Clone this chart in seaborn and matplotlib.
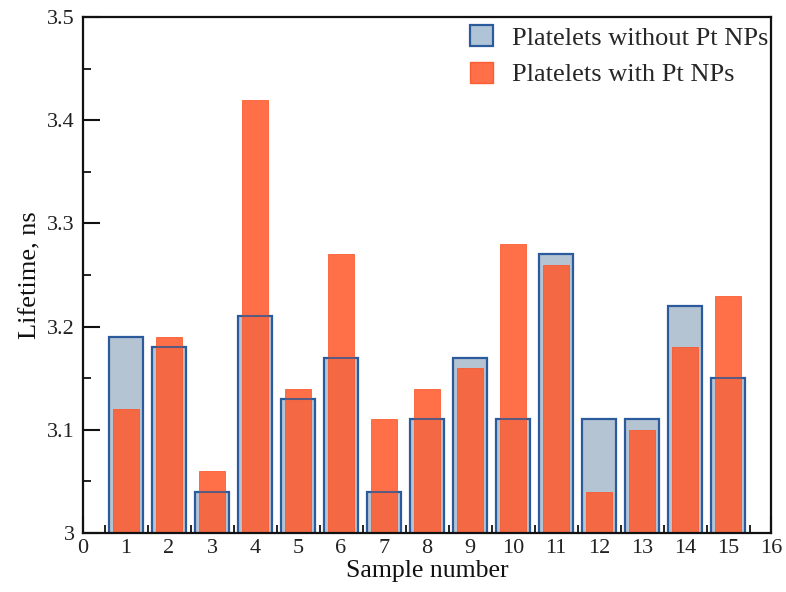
import matplotlib
matplotlib.use("Agg")
import matplotlib.pyplot as plt
import matplotlib.ticker as mticker
from matplotlib.patches import Patch
import pandas as pd
import seaborn as sns

# Lifetime per sample, ns
samples = list(range(1, 16))
without_pt = [3.19, 3.18, 3.04, 3.21, 3.13, 3.17, 3.04, 3.11, 3.17, 3.11, 3.27, 3.11, 3.11, 3.22, 3.15]
with_pt = [3.12, 3.19, 3.06, 3.42, 3.14, 3.27, 3.11, 3.14, 3.16, 3.28, 3.26, 3.04, 3.10, 3.18, 3.23]
label_without = "Platelets without Pt NPs"
label_with = "Platelets with Pt NPs"

df = pd.DataFrame({"sample": samples, "without": without_pt, "with": with_pt})

sns.set_style("ticks")
plt.rcParams["font.family"] = ["Liberation Serif", "DejaVu Serif"]

blue_fill = "#b0c4d8"
blue_edge = "#2c5b9c"
orange = (1.0, 0.35, 0.17, 0.86)
orange_edge = (0.98, 0.33, 0.15, 0.9)

fig = plt.figure(figsize=(7.86, 5.92), dpi=100)
ax = fig.add_axes([0.1056, 0.0997, 0.8755, 0.8716])

# filled blue bars underneath
sns.barplot(data=df, x="sample", y="without", native_scale=True, width=0.8,
            color=blue_fill, edgecolor=blue_edge, linewidth=1.6, ax=ax)
n = len(ax.patches)
# semi-transparent orange bars on top
sns.barplot(data=df, x="sample", y="with", native_scale=True, width=0.6,
            color=orange[:3], edgecolor=orange_edge[:3], linewidth=0.6, ax=ax)
for p in ax.patches[n:]:
    p.set_facecolor(orange)
    p.set_edgecolor(orange_edge)
m = len(ax.patches)
# blue outlines redrawn above the orange bars
sns.barplot(data=df, x="sample", y="without", native_scale=True, width=0.8,
            fill=False, edgecolor=blue_edge, linewidth=1.4, ax=ax)
for p in ax.patches[m:]:
    p.set_facecolor("none")
    p.set_edgecolor((0.17, 0.36, 0.61, 0.75))

ax.set_xlim(0, 16)
ax.set_ylim(3, 3.5)
ax.xaxis.set_major_locator(mticker.MultipleLocator(1))
ax.xaxis.set_minor_locator(mticker.MultipleLocator(0.5))
ax.yaxis.set_major_locator(mticker.MultipleLocator(0.1))
ax.yaxis.set_minor_locator(mticker.MultipleLocator(0.05))
ax.yaxis.set_major_formatter(mticker.FormatStrFormatter("%g"))
ax.xaxis.set_major_formatter(mticker.FormatStrFormatter("%d"))

ax.tick_params(axis="both", which="major", direction="in", length=12, width=1.5,
               labelsize=16, color="#111111", labelcolor="#222222")
ax.tick_params(axis="both", which="minor", direction="in", length=6, width=1.3,
               color="#111111")
ax.tick_params(axis="x", which="major", pad=4)
ax.tick_params(axis="y", which="major", pad=6)

for s in ax.spines.values():
    s.set_linewidth(1.6)
    s.set_color("#111111")
    s.set_visible(True)

ax.set_xlabel("Sample number", fontsize=18.5, labelpad=2, color="#111111")
ax.set_ylabel("Lifetime, ns", fontsize=19, labelpad=4, color="#111111")

handles = [Patch(facecolor=blue_fill, edgecolor=blue_edge, linewidth=1.6),
           Patch(facecolor=orange, edgecolor=orange_edge)]
ax.legend(handles, [label_without, label_with], loc="upper right",
          bbox_to_anchor=(1.012, 1.005),
          frameon=False, fontsize=19, handlelength=0.85, handleheight=0.85,
          handletextpad=0.75, labelspacing=0.45, borderaxespad=0.0,
          borderpad=0.4)

fig.savefig("out.png", dpi=100)
